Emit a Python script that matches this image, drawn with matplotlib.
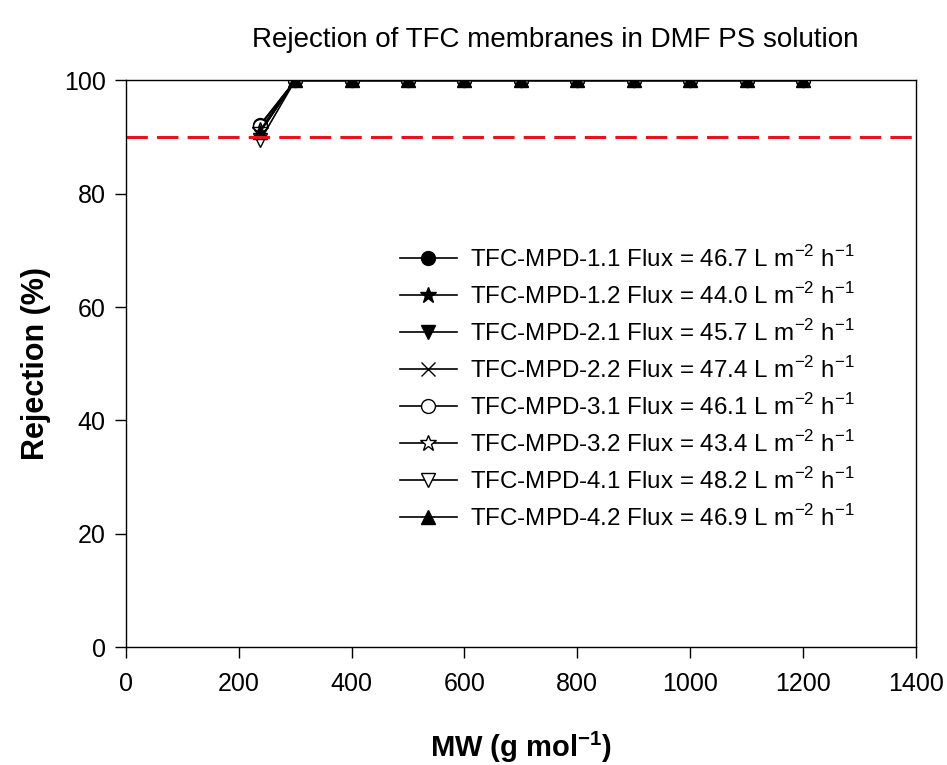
import numpy as np
import matplotlib.pyplot as plt

plt.rcParams['font.family'] = ['Liberation Sans', 'DejaVu Sans']
plt.rcParams['mathtext.fontset'] = 'custom'
plt.rcParams['mathtext.rm'] = 'Liberation Sans'
plt.rcParams['mathtext.bf'] = 'Liberation Sans:bold'

# 数据
mw = [238, 300, 400, 500, 600, 700, 800, 900, 1000, 1100, 1200]
names = ['TFC-MPD-1.1', 'TFC-MPD-1.2', 'TFC-MPD-2.1', 'TFC-MPD-2.2',
         'TFC-MPD-3.1', 'TFC-MPD-3.2', 'TFC-MPD-4.1', 'TFC-MPD-4.2']
flux = [46.7, 44.0, 45.7, 47.4, 46.1, 43.4, 48.2, 46.9]
first_rej = [92.2, 91.3, 90.8, 91.0, 92.0, 91.2, 89.4, 90.9]
rest_rej = 100.0

markers = ['o', '*', 'v', 'x', 'o', '*', 'v', '^']
fills = ['black', 'black', 'black', 'black', 'white', 'white', 'white', 'black']

fig = plt.figure(figsize=(9.47, 7.65), dpi=100)
ax = fig.add_axes([0.133, 0.154, 0.834, 0.741])

for i in range(len(names)):
    y = [first_rej[i]] + [rest_rej] * (len(mw) - 1)
    ms = 10 if markers[i] != '*' else 12
    ax.plot(mw, y, color='black', lw=1.2, marker=markers[i], ms=ms,
            mfc=fills[i], mec='black', mew=1.0,
            label=f'{names[i]} Flux = {flux[i]:.1f} L m$^{{-2}}$ h$^{{-1}}$')

# 90% 参考线
ax.axhline(90, color='#e8141c', lw=2.2, ls=(0, (7, 3)))

ax.set_xlim(0, 1400)
ax.set_ylim(0, 100)
ax.set_xticks(np.arange(0, 1401, 200))
ax.set_yticks(np.arange(0, 101, 20))
ax.tick_params(direction='out', length=8, width=1, labelsize=18)
ax.tick_params(axis='x', pad=10)
ax.tick_params(axis='y', pad=6.5)
for s in ax.spines.values():
    s.set_linewidth(1)

ax.set_title('Rejection of TFC membranes in DMF PS solution', fontsize=20,
             pad=24, x=0.544)
ax.set_xlabel('MW (g mol$^{\\mathbf{-1}}$)', fontsize=21, fontweight='bold', labelpad=24)
ax.set_ylabel('Rejection (%)', fontsize=22, fontweight='bold', labelpad=9)

ax.legend(loc='upper left', bbox_to_anchor=(0.347, 0.708), frameon=False,
          borderaxespad=0, borderpad=0,
          fontsize=17.4, handlelength=2.35, labelspacing=0.46, handletextpad=0.55)

fig.savefig('out.png', dpi=100)
